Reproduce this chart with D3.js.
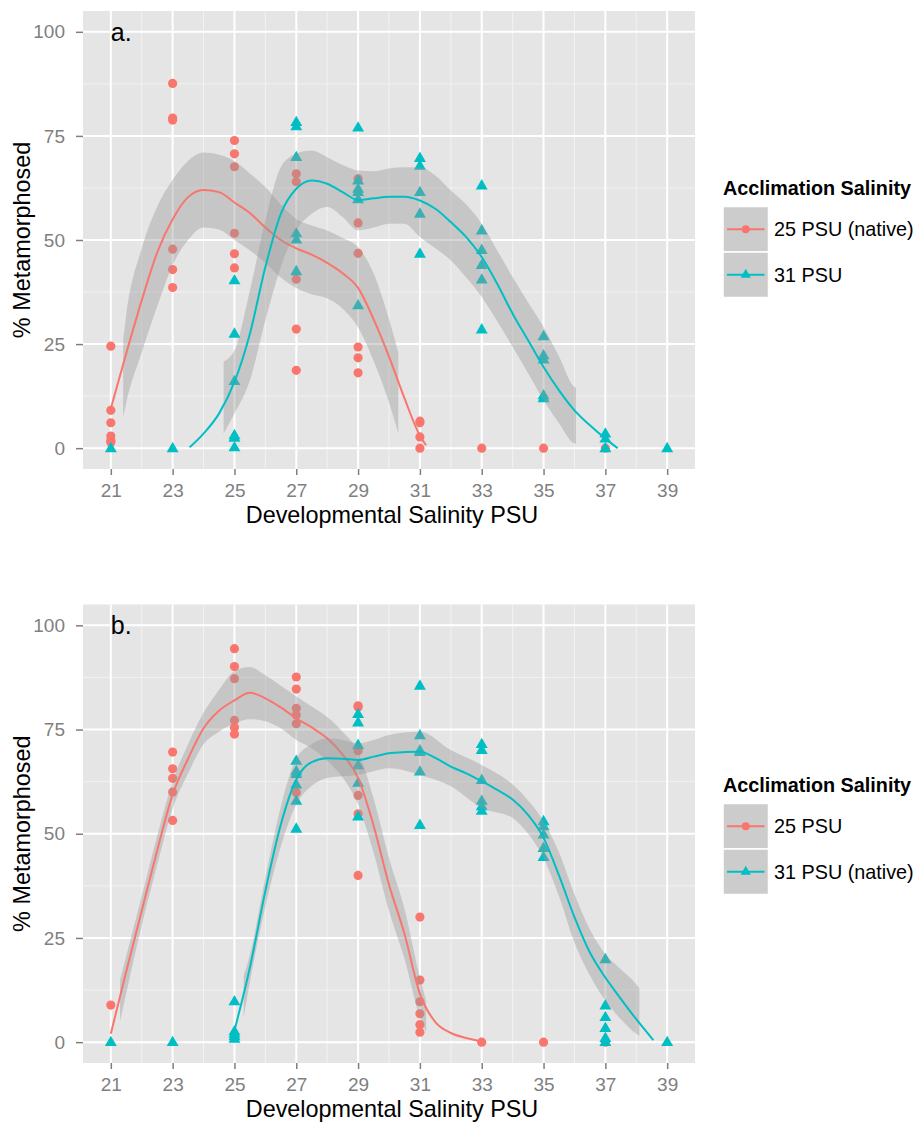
<!DOCTYPE html>
<html>
<head>
<meta charset="utf-8">
<script src="https://cdn.jsdelivr.net/npm/d3@7"></script>
<style>
  body { margin: 0; background: #fff; }
  text { font-family: "Liberation Sans", Arial, Helvetica, sans-serif; }
</style>
</head>
<body>
<svg id="chart" width="916" height="1122"></svg>
<script>
const salinityTicks = [21, 23, 25, 27, 29, 31, 33, 35, 37, 39];
const pctTicks = [0, 25, 50, 75, 100];
const groupLabelsA = ["25 PSU (native)", "31 PSU"];
const groupLabelsB = ["25 PSU", "31 PSU (native)"];
const colors = ["#F8766D", "#00BFC4"];

// points, panel a  [salinity, % metamorphosed]
const redA = [
  [21, 24.5], [21, 9.1], [21, 6.1], [21, 2.9], [21, 1.9], [21, 1.4],
  [23, 87.6], [23, 79.3], [23, 78.8], [23, 47.8], [23, 42.9], [23, 38.6],
  [25, 73.9], [25, 70.7], [25, 67.6], [25, 51.6], [25, 46.7], [25, 43.3],
  [27, 65.9], [27, 64], [27, 40.6], [27, 28.6], [27, 18.7],
  [29, 64.7], [29, 54.1], [29, 46.8], [29, 24.3], [29, 21.7], [29, 18.1],
  [31, 6.5], [31, 6.1], [31, 2.7], [31, 0],
  [33, 0], [35, 0], [37, 0]
];
const blueA = [
  [21, 0], [23, 0],
  [25, 40.3], [25, 27.5], [25, 16.1], [25, 3.1], [25, 2.5], [25, 0.2],
  [27, 78.3], [27, 77.3], [27, 69.9], [27, 51.6], [27, 50.1], [27, 42.5],
  [29, 77], [29, 64.3], [29, 62.3], [29, 61.5], [29, 59.8], [29, 34.3],
  [31, 69.7], [31, 67.8], [31, 61.5], [31, 56.3], [31, 46.7],
  [33, 63.1], [33, 52.3], [33, 47.6], [33, 44], [33, 40.5], [33, 28.5],
  [35, 26.9], [35, 22.3], [35, 21.3], [35, 12.7], [35, 12],
  [37, 3.5], [37, 2.3], [37, 0], [39, 0]
];

// points, panel b
const redB = [
  [21, 8.9],
  [23, 69.6], [23, 65.6], [23, 63.3], [23, 60], [23, 53.2],
  [25, 94.4], [25, 90.1], [25, 87.2], [25, 77.2], [25, 75.5], [25, 73.9],
  [27, 87.6], [27, 84.7], [27, 80.1], [27, 78.5], [27, 76.4], [27, 59.9],
  [29, 80.7], [29, 80.4], [29, 69.9], [29, 59.2], [29, 54.8], [29, 40],
  [31, 30], [31, 14.9], [31, 9.7], [31, 6.8], [31, 4.2], [31, 2.4],
  [33, 0], [35, 0], [37, 0]
];
const blueB = [
  [21, 0], [23, 0],
  [25, 9.8], [25, 2.6], [25, 2], [25, 1.4], [25, 0.8],
  [27, 67.5], [27, 65], [27, 64.3], [27, 61.8], [27, 57.9], [27, 51.2],
  [29, 78.7], [29, 76.7], [29, 71.3], [29, 66.4], [29, 62.2], [29, 54.1],
  [31, 85.5], [31, 73.6], [31, 70], [31, 69.6], [31, 64.9], [31, 52.1],
  [33, 71.5], [33, 70.1], [33, 62.9], [33, 57.9], [33, 56.6], [33, 55.5],
  [35, 53], [35, 51.8], [35, 49.8], [35, 46.6], [35, 44.4],
  [37, 19.9], [37, 8.8], [37, 6], [37, 3.4], [37, 1], [37, 0],
  [39, 0]
];

// smoothed fits
const fitRedA_x = [21, 21.5, 22, 22.5, 23, 23.5, 24, 24.5, 25, 25.5, 26, 26.5, 27, 27.5, 28, 28.5, 29, 29.5, 30, 30.5, 31, 31.2];
const fitRedA_y = [9.5, 22.8, 35.5, 47, 55, 60.3, 62, 61.5, 59, 56.5, 53, 50, 48, 46.5, 44.5, 42, 38.5, 31, 22, 12, 3, 0.7];
const bandRedA_x = [21.4, 21.5, 22, 22.5, 23, 23.5, 24, 24.5, 25, 25.5, 26, 26.5, 27, 27.5, 28, 28.5, 29, 29.5, 30, 30.3];
const bandRedA_hi = [26, 32, 48, 58, 64.5, 69, 71, 70.5, 69, 66, 62.7, 58.5, 55, 53.5, 52.3, 50.5, 48.3, 42, 31, 23];
const bandRedA_lo = [7.5, 11, 23, 34, 44, 50, 53, 52.5, 50, 47.5, 44.5, 41, 38.5, 37, 36, 33.5, 29, 21, 11, 3.6];

const fitBlueA_x = [23.55, 24, 24.5, 25, 25.5, 26, 26.5, 27, 27.5, 28, 28.5, 29, 29.5, 30, 30.5, 31, 31.5, 32, 32.5, 33, 33.5, 34, 34.5, 35, 35.5, 36, 36.5, 37, 37.4];
const fitBlueA_y = [0.2, 3.5, 8.3, 15.9, 27.5, 43.5, 56.3, 62.3, 64.3, 63.5, 61.5, 59.6, 60, 60.4, 60.4, 59.5, 57.5, 54.3, 50.7, 45.9, 39.5, 32.3, 25.9, 19.5, 13.9, 9.1, 5.5, 2.3, 0];
const bandBlueA_x = [24.65, 25, 25.5, 26, 26.5, 27, 27.5, 28, 28.5, 29, 29.5, 30, 30.5, 31, 31.5, 32, 32.5, 33, 33.5, 34, 34.5, 35, 35.5, 36, 36.05];
const bandBlueA_hi = [20.8, 23.5, 37.9, 54.7, 67.5, 70.7, 71.5, 69.9, 68, 66.7, 66.5, 67.2, 67.5, 67.5, 65.5, 61.9, 58.5, 53.9, 47.5, 41.1, 35, 29.1, 22, 14.7, 14.5];
const bandBlueA_lo = [3.5, 8.3, 16.3, 30.7, 43.5, 52.3, 56.3, 57.9, 55.5, 52.3, 53, 53.9, 53.9, 50.7, 48, 45.1, 41, 36.3, 30.5, 24.3, 18, 11.5, 6, 1.1, 1];

const fitRedB_x = [21, 21.5, 22, 22.5, 23, 23.5, 24, 24.5, 25, 25.5, 26, 26.5, 27, 27.5, 28, 28.5, 29, 29.5, 30, 30.5, 31, 31.5, 32, 32.5, 33];
const fitRedB_y = [2, 17, 31.5, 46, 59.4, 68, 75.3, 79.5, 82, 83.8, 82.5, 80.3, 77.7, 75.5, 72.9, 69, 63.4, 52, 37.8, 26, 11.6, 4.8, 2.2, 1, 0.2];
const bandRedB_x = [21.3, 22, 22.5, 23, 23.5, 24, 24.5, 25, 25.5, 26, 26.5, 27, 27.5, 28, 28.5, 29, 29.5, 30, 30.5, 31, 31.2];
const bandRedB_hi = [15, 35, 49.5, 62.5, 71.5, 79, 84.5, 89, 90, 88, 85.5, 83, 80.5, 78, 74.5, 69.7, 58.5, 44.2, 32, 15.5, 10];
const bandRedB_lo = [5, 28, 42.5, 56, 64.5, 71.5, 74.5, 76.5, 77.5, 77, 75.3, 72.5, 70.5, 67.5, 63.5, 57, 45.5, 31.5, 20, 6, 2.5];

const fitBlueB_x = [25, 25.5, 26, 26.5, 27, 27.5, 28, 28.5, 29, 29.5, 30, 30.5, 31, 31.5, 32, 32.5, 33, 33.5, 34, 34.5, 35, 35.5, 36, 36.5, 37, 37.5, 38, 38.55];
const fitBlueB_y = [2.8, 17.9, 36.3, 52.2, 63, 67.2, 68.1, 68, 67.7, 68.5, 69.3, 69.6, 69.7, 68.2, 66.1, 64.5, 62.6, 60.5, 58.2, 54.5, 49, 40, 30, 21.5, 15.5, 10.4, 5.5, 0.5];
const bandBlueB_x = [25.3, 25.5, 26, 26.5, 27, 27.5, 28, 28.5, 29, 29.5, 30, 31, 32, 33, 34, 34.5, 35, 35.5, 36, 36.5, 37, 37.5, 38, 38.1];
const bandBlueB_hi = [16, 21, 39.5, 56.5, 68.1, 71.5, 72.9, 72.5, 71.7, 72.5, 73.7, 74.5, 70.1, 66.5, 61.8, 58, 53, 45.5, 35.5, 27, 21.1, 17.5, 13.9, 13];
const bandBlueB_lo = [6, 14.5, 32.5, 47, 57, 61.5, 63.4, 63.8, 64.1, 65, 65.7, 64.1, 61.4, 56.2, 53.8, 50, 44.2, 35, 23.9, 16, 10, 5.5, 2, 1.5];

const svg = d3.select("#chart");
const panelLeft = 83, panelRight = 695;
const x = d3.scaleLinear().domain([20.1, 39.9]).range([panelLeft, panelRight]);

function drawPanel(top, bottom, tag, labels, pts, fits, bands, legendTop) {
  const y = d3.scaleLinear().domain([-5, 105]).range([bottom, top]);
  const g = svg.append("g");

  g.append("rect")
    .attr("x", panelLeft).attr("y", top)
    .attr("width", panelRight - panelLeft).attr("height", bottom - top)
    .attr("fill", "#e5e5e5");

  // minor grid
  const minorX = d3.range(22, 39, 2);
  const minorY = [12.5, 37.5, 62.5, 87.5];
  g.selectAll(".mx").data(minorX).enter().append("line")
    .attr("x1", d => x(d)).attr("x2", d => x(d)).attr("y1", top).attr("y2", bottom)
    .attr("stroke", "#f2f2f2").attr("stroke-width", 1);
  g.selectAll(".my").data(minorY).enter().append("line")
    .attr("x1", panelLeft).attr("x2", panelRight).attr("y1", d => y(d)).attr("y2", d => y(d))
    .attr("stroke", "#f2f2f2").attr("stroke-width", 1);
  // major grid
  g.selectAll(".gx").data(salinityTicks).enter().append("line")
    .attr("x1", d => x(d)).attr("x2", d => x(d)).attr("y1", top).attr("y2", bottom)
    .attr("stroke", "#fff").attr("stroke-width", 2);
  g.selectAll(".gy").data(pctTicks).enter().append("line")
    .attr("x1", panelLeft).attr("x2", panelRight).attr("y1", d => y(d)).attr("y2", d => y(d))
    .attr("stroke", "#fff").attr("stroke-width", 2);

  // points
  pts.forEach((p, i) => {
    const sym = d3.symbol().type(i === 0 ? d3.symbolCircle : d3.symbolTriangle).size(i === 0 ? 66 : 62);
    g.selectAll(null).data(p).enter().append("path")
      .attr("d", sym)
      .attr("transform", d => `translate(${x(d[0])},${y(d[1]) + (i === 1 ? 0.5 : 0)})`)
      .attr("fill", colors[i]);
  });

  // smooths: ribbon then line per group
  const area = d3.area().x(d => x(d[0])).y0(d => y(d[1])).y1(d => y(d[2])).curve(d3.curveMonotoneX);
  const line = d3.line().x(d => x(d[0])).y(d => y(d[1])).curve(d3.curveMonotoneX);
  [0, 1].forEach(i => {
    const b = bands[i];
    g.append("path")
      .datum(b[0].map((v, k) => [v, b[1][k], b[2][k]]))
      .attr("d", area)
      .attr("fill", "#999999").attr("fill-opacity", 0.4);
    const f = fits[i];
    g.append("path")
      .datum(f[0].map((v, k) => [v, f[1][k]]))
      .attr("d", line)
      .attr("fill", "none").attr("stroke", colors[i]).attr("stroke-width", 2);
  });

  g.append("text")
    .attr("x", x(21)).attr("y", y(100)).attr("dy", "0.36em")
    .attr("font-size", 25).attr("fill", "#000")
    .text(tag);

  // axes
  const xAxis = g.append("g").attr("transform", `translate(0,${bottom})`)
    .call(d3.axisBottom(x).tickValues(salinityTicks).tickSize(6).tickPadding(9));
  const yAxis = g.append("g").attr("transform", `translate(${panelLeft},0)`)
    .call(d3.axisLeft(y).tickValues(pctTicks).tickSize(7).tickPadding(11));
  [xAxis, yAxis].forEach(a => {
    a.select(".domain").remove();
    a.selectAll("line").attr("stroke", "#7f7f7f").attr("stroke-width", 1.5);
    a.selectAll("text").attr("fill", "#7f7f7f").attr("font-size", 19)
      .style("font-family", "'Liberation Sans', Arial, sans-serif");
  });

  g.append("text")
    .attr("x", (panelLeft + panelRight) / 2 + 3).attr("y", bottom + 54)
    .attr("text-anchor", "middle").attr("font-size", 23.4)
    .text("Developmental Salinity PSU");
  g.append("text")
    .attr("transform", `translate(22,${(top + bottom) / 2}) rotate(-90)`)
    .attr("text-anchor", "middle").attr("dy", "0.36em").attr("font-size", 23.4)
    .text("% Metamorphosed");

  // legend
  const lg = svg.append("g").attr("transform", `translate(723,${legendTop})`);
  lg.append("text").attr("x", 0).attr("y", 0).attr("dy", "0.36em")
    .attr("font-size", 19.8).attr("font-weight", "bold")
    .text("Acclimation Salinity");
  const keySize = 45.5;
  labels.forEach((lab, i) => {
    const ky = 18.5 + i * keySize;
    lg.append("rect").attr("x", 0).attr("y", ky).attr("width", keySize).attr("height", keySize)
      .attr("fill", "#cccccc").attr("stroke", "#fff").attr("stroke-width", 1.5);
    lg.append("line").attr("x1", 4).attr("x2", keySize - 4)
      .attr("y1", ky + keySize / 2).attr("y2", ky + keySize / 2)
      .attr("stroke", colors[i]).attr("stroke-width", 2);
    lg.append("path")
      .attr("d", d3.symbol().type(i === 0 ? d3.symbolCircle : d3.symbolTriangle).size(i === 0 ? 50 : 45))
      .attr("transform", `translate(${keySize / 2},${ky + keySize / 2})`)
      .attr("fill", colors[i]);
    lg.append("text").attr("x", 51).attr("y", ky + keySize / 2).attr("dy", "0.36em")
      .attr("font-size", 19.8).text(lab);
  });
}

drawPanel(11, 469, "a.", groupLabelsA, [redA, blueA],
  [[fitRedA_x, fitRedA_y], [fitBlueA_x, fitBlueA_y]],
  [[bandRedA_x, bandRedA_lo, bandRedA_hi], [bandBlueA_x, bandBlueA_lo, bandBlueA_hi]], 188);

drawPanel(604.5, 1063, "b.", groupLabelsB, [redB, blueB],
  [[fitRedB_x, fitRedB_y], [fitBlueB_x, fitBlueB_y]],
  [[bandRedB_x, bandRedB_lo, bandRedB_hi], [bandBlueB_x, bandBlueB_lo, bandBlueB_hi]], 785);
</script>
</body>
</html>
